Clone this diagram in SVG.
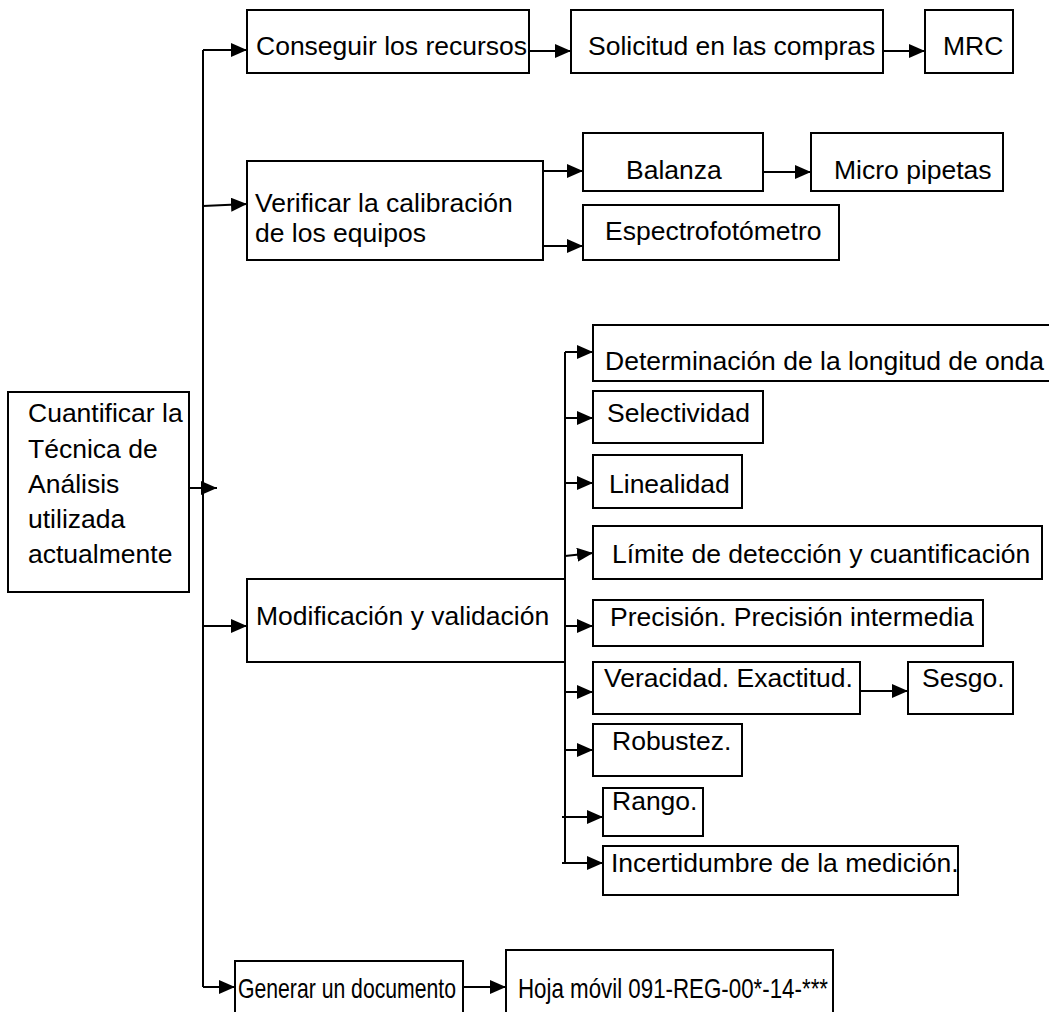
<svg xmlns="http://www.w3.org/2000/svg" width="1049" height="1012" viewBox="0 0 1049 1012">
  <style>
    .box { fill: #ffffff; stroke: #000000; stroke-width: 2; }
    .lbl { font-family: "Liberation Sans", Arial, sans-serif; font-size: 26.5px; fill: #000000; }
    .narrow { font-size: 28.5px; }
    .wire { fill: none; stroke: #000000; stroke-width: 2; }
    .arr { fill: none; stroke: #000000; stroke-width: 2; marker-end: url(#tip); }
  </style>
  <defs>
    <marker id="tip" viewBox="0 0 16 14" refX="16" refY="7" markerWidth="16" markerHeight="14" markerUnits="userSpaceOnUse" orient="auto">
      <path d="M0,0 L16,7 L0,14 Z" fill="#000000"/>
    </marker>
  </defs>
  <rect width="1049" height="1012" fill="#ffffff"/>

  <!-- connectors -->
  <g id="connectors">
    <path class="wire" d="M203,50 V987"/>
    <path class="arr" d="M189,488 H217"/>
    <path class="arr" d="M203,50 H247"/>
    <path class="arr" d="M203,206 L247,204"/>
    <path class="arr" d="M203,626 H247"/>
    <path class="arr" d="M203,987 H235"/>
    <path class="arr" d="M529,51 H571"/>
    <path class="arr" d="M883,51 H925"/>
    <path class="arr" d="M543,171 H583"/>
    <path class="arr" d="M543,246 H583"/>
    <path class="arr" d="M763,172 H811"/>
    <path class="wire" d="M565,352 V863"/>
    <path class="arr" d="M565,352 H593"/>
    <path class="arr" d="M565,418 H593"/>
    <path class="arr" d="M565,483 H593"/>
    <path class="arr" d="M565,556 L593,553"/>
    <path class="arr" d="M565,626 H593"/>
    <path class="arr" d="M565,692 H593"/>
    <path class="arr" d="M860,691 H908"/>
    <path class="arr" d="M565,750 H593"/>
    <path class="arr" d="M562,817 H603"/>
    <path class="arr" d="M562,863 H603"/>
    <path class="arr" d="M463,987 H506"/>
  </g>

  <!-- root -->
  <g id="n-cuantificar">
    <rect class="box" x="8" y="392" width="181" height="200"/>
    <text class="lbl" x="28" y="422">Cuantificar la</text>
    <text class="lbl" x="28" y="458">Técnica de</text>
    <text class="lbl" x="28" y="493">Análisis</text>
    <text class="lbl" x="28" y="528">utilizada</text>
    <text class="lbl" x="28" y="563">actualmente</text>
  </g>

  <!-- first branch -->
  <g id="n-conseguir">
    <rect class="box" x="247" y="10" width="282" height="63"/>
    <text class="lbl" x="256" y="55">Conseguir los recursos</text>
  </g>
  <g id="n-solicitud">
    <rect class="box" x="571" y="10" width="312" height="63"/>
    <text class="lbl" x="588" y="55">Solicitud en las compras</text>
  </g>
  <g id="n-mrc">
    <rect class="box" x="925" y="10" width="88" height="63"/>
    <text class="lbl" x="943" y="55">MRC</text>
  </g>

  <!-- calibration branch -->
  <g id="n-verificar">
    <rect class="box" x="247" y="161" width="296" height="99"/>
    <text class="lbl" x="255" y="212">Verificar la calibración</text>
    <text class="lbl" x="255" y="242">de los equipos</text>
  </g>
  <g id="n-balanza">
    <rect class="box" x="583" y="133" width="180" height="58"/>
    <text class="lbl" x="626" y="179">Balanza</text>
  </g>
  <g id="n-micropipetas">
    <rect class="box" x="811" y="133" width="192" height="58"/>
    <text class="lbl" x="834" y="179">Micro pipetas</text>
  </g>
  <g id="n-espectro">
    <rect class="box" x="583" y="205" width="256" height="55"/>
    <text class="lbl" x="605" y="240">Espectrofotómetro</text>
  </g>

  <!-- validation branch -->
  <g id="n-modificacion">
    <rect class="box" x="247" y="579" width="318" height="83"/>
    <text class="lbl" x="256" y="625">Modificación y validación</text>
  </g>
  <g id="n-longitud">
    <rect class="box" x="593" y="325" width="470" height="56"/>
    <text class="lbl" x="605" y="370">Determinación de la longitud de onda</text>
  </g>
  <g id="n-selectividad">
    <rect class="box" x="593" y="391" width="170" height="52"/>
    <text class="lbl" x="607" y="422">Selectividad</text>
  </g>
  <g id="n-linealidad">
    <rect class="box" x="593" y="455" width="149" height="53"/>
    <text class="lbl" x="609" y="493">Linealidad</text>
  </g>
  <g id="n-limite">
    <rect class="box" x="593" y="526" width="449" height="53"/>
    <text class="lbl" x="612" y="563">Límite de detección y cuantificación</text>
  </g>
  <g id="n-precision">
    <rect class="box" x="593" y="600" width="390" height="46"/>
    <text class="lbl" x="610" y="626">Precisión. Precisión intermedia</text>
  </g>
  <g id="n-veracidad">
    <rect class="box" x="593" y="662" width="267" height="52"/>
    <text class="lbl" x="604" y="687">Veracidad. Exactitud.</text>
  </g>
  <g id="n-sesgo">
    <rect class="box" x="908" y="662" width="105" height="52"/>
    <text class="lbl" x="922" y="687">Sesgo.</text>
  </g>
  <g id="n-robustez">
    <rect class="box" x="593" y="724" width="149" height="52"/>
    <text class="lbl" x="612" y="750">Robustez.</text>
  </g>
  <g id="n-rango">
    <rect class="box" x="603" y="788" width="100" height="48"/>
    <text class="lbl" x="612" y="810">Rango.</text>
  </g>
  <g id="n-incertidumbre">
    <rect class="box" x="603" y="846" width="355" height="49"/>
    <text class="lbl" x="611" y="872">Incertidumbre de la medición.</text>
  </g>

  <!-- document branch -->
  <g id="n-generar">
    <rect class="box" x="235" y="961" width="228" height="60"/>
    <text class="lbl narrow" x="238" y="998" textLength="218" lengthAdjust="spacingAndGlyphs">Generar un documento</text>
  </g>
  <g id="n-hoja">
    <rect class="box" x="506" y="950" width="327" height="70"/>
    <text class="lbl narrow" x="518" y="998" textLength="310" lengthAdjust="spacingAndGlyphs">Hoja móvil 091-REG-00*-14-***</text>
  </g>
</svg>
